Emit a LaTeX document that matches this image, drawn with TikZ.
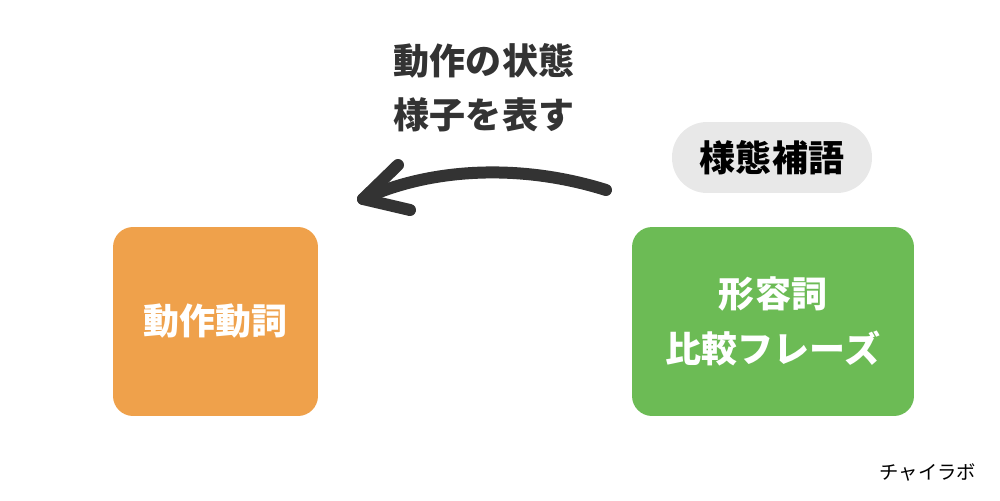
\documentclass[tikz,border=0pt]{standalone}
\usepackage{fontspec}
\newfontfamily\jp{Noto Sans CJK JP}
\usetikzlibrary{positioning}

\definecolor{verbcol}{HTML}{EFA14B}
\definecolor{adjcol}{HTML}{6CBB55}
\definecolor{tagcol}{HTML}{E8E8E8}
\definecolor{inkcol}{HTML}{333333}

\begin{document}
\begin{tikzpicture}[x=0.02cm,y=-0.02cm,
	box/.style={rectangle,rounded corners=0.4cm,minimum height=3.78cm,text=white,align=center,font=\jp\bfseries\fontsize{20.5pt}{31pt}\selectfont},
	tag/.style={rectangle,rounded corners=0.7cm,fill=tagcol,minimum width=4cm,minimum height=1.42cm,font=\jp\bfseries\fontsize{20.5pt}{31pt}\selectfont}]

\useasboundingbox (0,0) rectangle (1000,500);

\node[box,fill=verbcol,minimum width=4.1cm] (verb) at (215.5,321.5) {動作動詞};

\node[box,fill=adjcol,minimum width=5.64cm] (adj) at (773,321.5) {形容詞\\比較フレーズ};

\node[tag] (tag) at (772,157.5) {様態補語};

\node[align=center,text=inkcol,font=\jp\bfseries\fontsize{20.5pt}{31pt}\selectfont] (desc) at (484,88) {動作の状態\\様子を表す};

% hand drawn arrow
\coordinate (arr_start) at (606,190);
\coordinate (arr_tip) at (363,199);
\draw[inkcol,line width=0.24cm,line cap=round,line join=round]
	(arr_start) .. controls (520,163) and (430,168) .. (arr_tip);
\draw[inkcol,line width=0.24cm,line cap=round,line join=round]
	(398,165) -- (arr_tip) -- (410,210);

\node[font=\jp\fontsize{11pt}{13pt}\selectfont] (mark) at (928,472) {チャイラボ};

\end{tikzpicture}
\end{document}
